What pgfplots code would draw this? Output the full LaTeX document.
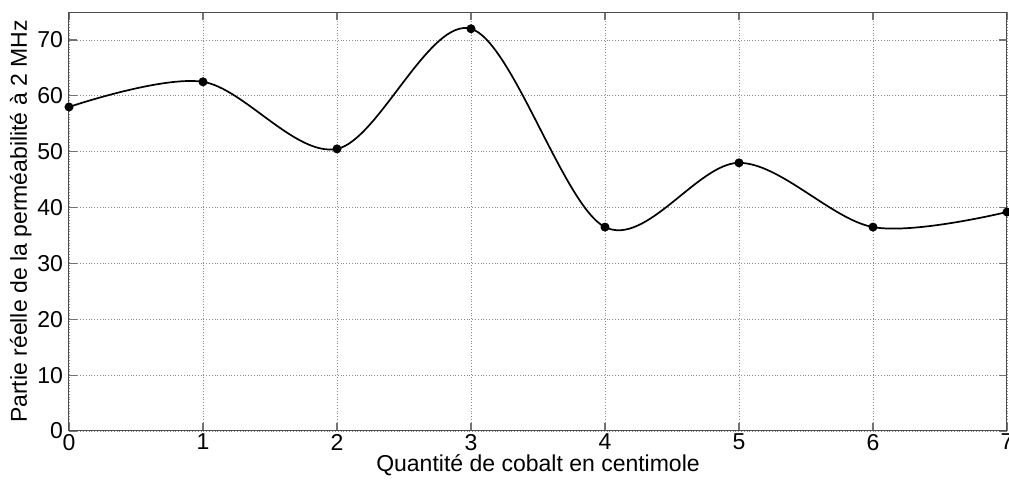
\documentclass[border=0pt]{standalone}
\usepackage{fontspec}
\setmainfont{Liberation Sans}
\usepackage{pgfplots}
\pgfplotsset{compat=1.18}
\begin{document}
\fontsize{11.5}{13}\selectfont
\begin{tikzpicture}
\begin{axis}[
  name=ax,
  at={(0,0)}, anchor=south west,
  scale only axis,
  width=469pt, height=209.5pt,
  xmin=0, xmax=7, ymin=0, ymax=75,
  xtick={0,...,7}, ytick={0,10,...,70},
  tick align=inside,
  major tick length=4pt,
  tick style={black!55, line width=0.6pt},
  axis line style={black!70, line width=0.5pt},
  grid=major,
  grid style={densely dotted, black!45, line width=0.4pt},
  /pgf/number format/assume math mode=true,
  ticklabel style={font=\fontsize{11.5}{13}\selectfont},
  label style={font=\fontsize{11.5}{13}\selectfont},
  xlabel={Quantité de cobalt en centimole},
  ylabel={Partie réelle de la perméabilité à 2 MHz},
  xlabel style={yshift=6pt},
  ylabel style={yshift=-5pt},
  xticklabel style={yshift=2.5pt},
  yticklabel style={xshift=1pt},
]
\addplot[black, line width=0.85pt, smooth, tension=0.55, mark=*, mark size=1.8pt, mark options={solid, fill=black}]
  coordinates {(0,58) (1,62.5) (2,50.5) (3,72) (4,36.5) (5,48) (6,36.5) (7,39.2)};
\end{axis}
\pgfresetboundingbox
\path[use as bounding box] (-34.5pt,-25pt) rectangle (470pt,215.5pt);
\end{tikzpicture}
\end{document}
